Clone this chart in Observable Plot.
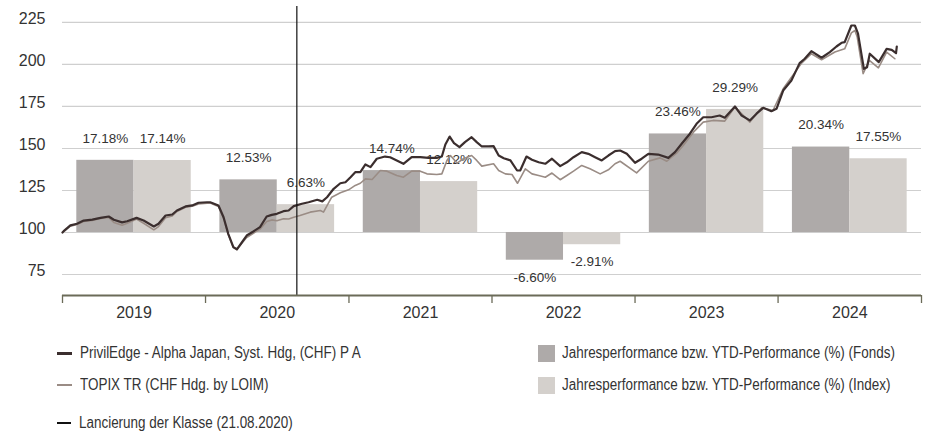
<!DOCTYPE html>
<html><head><meta charset="utf-8">
<script src="https://cdn.jsdelivr.net/npm/d3@7"></script>
<script src="https://cdn.jsdelivr.net/npm/@observablehq/plot@0.6"></script>
<style>
body{margin:0;background:#fff;}
#wrap{position:relative;width:927px;height:434px;overflow:hidden;font-family:"Liberation Sans",Arial,sans-serif;color:#333;}
.txt{position:absolute;font-size:16px;line-height:18px;white-space:nowrap;transform:scaleX(0.84);transform-origin:0 50%;}
.sw{position:absolute;}
</style></head><body><div id="wrap"></div>
<script>
// ---- data ----
const fundDates = ["2019-01-01","2019-01-04","2019-01-21","2019-02-07","2019-02-24","2019-03-18","2019-04-08","2019-04-29","2019-05-12","2019-06-02","2019-06-15","2019-07-09","2019-07-27","2019-08-22","2019-09-03","2019-09-21","2019-10-08","2019-10-20","2019-11-11","2019-11-28","2019-12-14",
"2020-01-05","2020-01-13","2020-02-03","2020-02-16","2020-02-28","2020-03-12","2020-03-21","2020-04-03","2020-04-15","2020-05-02","2020-05-19","2020-06-05","2020-06-18","2020-07-01","2020-07-18","2020-07-31","2020-08-13","2020-09-03","2020-09-20","2020-10-12","2020-10-25","2020-11-06","2020-11-23","2020-12-10","2020-12-23",
"2021-01-05","2021-01-17","2021-01-30","2021-02-12","2021-02-25","2021-03-13","2021-04-03","2021-04-16","2021-05-03","2021-05-20","2021-06-10","2021-07-02","2021-07-23","2021-08-13","2021-08-26","2021-09-04","2021-09-15","2021-09-26","2021-10-10","2021-10-24","2021-11-10","2021-11-23","2021-12-06","2021-12-23",
"2022-01-05","2022-01-18","2022-01-31","2022-02-17","2022-03-06","2022-03-14","2022-03-30","2022-04-13","2022-04-30","2022-05-17","2022-06-03","2022-06-24","2022-07-11","2022-07-28","2022-08-18","2022-09-04","2022-09-21","2022-10-08","2022-10-25","2022-11-11","2022-11-24","2022-12-11",
"2023-01-01","2023-01-18","2023-02-04","2023-03-01","2023-03-27","2023-04-13","2023-04-30","2023-05-21","2023-06-07","2023-06-24","2023-07-15","2023-08-05","2023-08-18","2023-09-13","2023-09-30","2023-10-21","2023-11-07","2023-11-24","2023-12-15","2023-12-28",
"2024-01-14","2024-02-04","2024-02-25","2024-03-09","2024-03-26","2024-04-21","2024-05-12","2024-05-29","2024-06-11","2024-06-19","2024-07-06","2024-07-15","2024-07-23","2024-08-07","2024-08-15","2024-08-22","2024-09-14","2024-10-04","2024-10-17","2024-10-28","2024-10-30"];
const fundValues = [100,100.8,104.2,105.2,107.1,107.7,108.7,109.5,107.6,106.0,106.7,108.7,107.1,103.6,105.2,110.1,110.7,113.1,115.5,116.1,117.7,
118.0,118.0,116.1,109.1,99.2,91.3,90.0,94.2,98.2,100.6,103.2,109.5,110.5,111.1,112.7,113.1,115.7,117.1,118.0,119.5,118.5,121.0,126.0,129.3,129.9,
132.9,135.9,135.9,140.5,138.9,143.9,145.2,144.8,142.9,140.9,144.8,144.8,144.4,144.4,145.2,152.4,157.1,153.2,150.8,153.8,156.7,153.8,151.2,151.2,
151.4,145.8,144.2,142.9,136.9,136.9,145.2,143.3,141.8,140.9,143.9,139.5,141.8,144.8,147.8,146.8,144.8,142.9,145.8,148.4,148.8,146.8,
141.5,143.9,146.8,146.4,144.4,147.8,152.8,158.8,164.7,168.6,168.6,169.6,168.3,175.0,169.6,166.7,170.7,174.2,172.2,173.6,
184.5,190.5,200.8,203.4,207.9,204.0,207.4,210.7,212.9,213.3,223.2,223.2,218.3,197.4,198.4,206.4,201.4,209.3,208.7,206.7,210.7];

const indexDates = ["2019-01-01","2019-01-04","2019-01-21","2019-02-07","2019-02-24","2019-03-18","2019-04-08","2019-04-29","2019-05-12","2019-06-02","2019-06-15","2019-07-09","2019-07-27","2019-08-22","2019-09-03","2019-09-21","2019-10-08","2019-10-20","2019-11-11","2019-11-28","2019-12-14",
"2020-01-05","2020-01-13","2020-02-03","2020-02-16","2020-02-28","2020-03-12","2020-03-21","2020-04-03","2020-04-15","2020-05-02","2020-05-19","2020-06-05","2020-06-18","2020-07-01","2020-07-18","2020-07-31","2020-08-13","2020-08-29","2020-09-24","2020-10-20","2020-10-28","2020-11-18","2020-12-10","2020-12-31",
"2021-01-17","2021-01-30","2021-02-12","2021-03-01","2021-03-22","2021-04-08","2021-05-03","2021-05-20","2021-06-10","2021-07-02","2021-07-19","2021-08-13","2021-08-26","2021-09-08","2021-09-17","2021-10-04","2021-10-20","2021-11-10","2021-11-23","2021-12-06",
"2022-01-05","2022-01-18","2022-02-04","2022-02-21","2022-03-07","2022-03-27","2022-04-13","2022-04-30","2022-05-17","2022-06-03","2022-06-24","2022-07-11","2022-07-28","2022-08-18","2022-09-08","2022-10-04","2022-10-25","2022-11-11","2022-11-24",
"2023-01-05","2023-02-04","2023-03-06","2023-03-23","2023-04-17","2023-05-04","2023-05-30","2023-06-24","2023-07-19","2023-08-18","2023-09-13","2023-10-21","2023-11-20","2023-12-19",
"2024-01-14","2024-03-01","2024-03-26","2024-04-21","2024-05-25","2024-06-19","2024-07-06","2024-07-15","2024-07-21","2024-08-05","2024-08-21","2024-09-13","2024-10-04","2024-10-25"];
const indexValues = [100,100.5,103.8,104.8,106.6,107.2,108.3,109.0,106.0,104.3,105.5,108.0,105.5,101.6,103.5,108.8,109.8,112.5,115.0,115.6,117.0,
117.5,117.6,115.5,108.5,98.8,91.0,89.8,93.8,97.0,99.5,102.0,106.5,107.5,107.0,108.2,108.0,109.1,110.1,112.1,113.1,112.1,121.0,123.6,125.4,
128.0,129.3,131.9,131.5,136.9,136.5,133.9,132.9,136.5,136.5,134.9,134.5,134.9,142.9,145.8,141.3,143.9,145.8,142.9,139.5,
140.9,136.9,134.9,134.5,129.3,137.9,134.9,133.9,132.9,135.4,131.4,133.9,136.5,139.9,137.9,134.9,137.3,140.9,142.4,
135.5,142.4,144.4,142.4,147.2,151.8,159.7,165.7,166.7,166.3,174.6,165.7,174.2,172.6,
185.5,200.8,206.4,202.8,207.4,209.3,218.8,220.2,216.3,194.5,202.4,198.0,207.4,203.4];

const years = [2019, 2020, 2021, 2022, 2023, 2024];
const fundPerf = [17.18, 12.53, 14.74, -6.60, 23.46, 20.34];
const indexPerf = [17.14, 6.63, 12.12, -2.91, 29.29, 17.55];
const yTicks = [75, 100, 125, 150, 175, 200, 225];
const launchDate = "2020-08-21";
const barBase = 100;   // bars start at the index level 100
const barScale = 2.5;  // index points per percent

const fundName = "PrivilEdge - Alpha Japan, Syst. Hdg, (CHF) P A";
const indexName = "TOPIX TR (CHF Hdg. by LOIM)";
const launchName = "Lancierung der Klasse (21.08.2020)";
const barFundName = "Jahresperformance bzw. YTD-Performance (%) (Fonds)";
const barIndexName = "Jahresperformance bzw. YTD-Performance (%) (Index)";

// ---- colours ----
const cFundLine = "#3b2e2e", cIndexLine = "#9a8c85";
const cFundBar = "#aeaaa9", cIndexBar = "#d4d0cc";
const cAxis = "#6b6b58", cText = "#333333";
const font = '"Liberation Sans",Arial,sans-serif';

// ---- build ----
const fund = fundDates.map((d, i) => ({date: new Date(d), v: fundValues[i]}));
const idx = indexDates.map((d, i) => ({date: new Date(d), v: indexValues[i]}));
function yearPoint(y, f) { const a = Date.UTC(y, 0, 1), b = Date.UTC(y + 1, 0, 1); return new Date(a + f * (b - a)); }
const bars = years.flatMap((y, i) => [
  {s: "F", x1: yearPoint(y, 0.1), x2: yearPoint(y, 0.5), v: fundPerf[i]},
  {s: "I", x1: yearPoint(y, 0.5), x2: yearPoint(y, 0.9), v: indexPerf[i]}
]);
bars.forEach(b => { b.mid = new Date((+b.x1 + +b.x2) / 2); b.top = barBase + barScale * b.v; });
const bounds = years.concat([2025]).map(y => yearPoint(y, 0));
const mids = years.map(y => yearPoint(y, 0.5));
const yMin = 62.5, yMax = 234.5;

const chart = Plot.plot({
  width: 927, height: 334,
  marginLeft: 62, marginRight: 6, marginTop: 6, marginBottom: 39,
  style: {fontFamily: font, color: cText, background: "#fff"},
  x: {type: "utc", domain: [bounds[0], bounds[bounds.length - 1]], label: null},
  y: {domain: [yMin, yMax], label: null},
  marks: [
    Plot.gridY(yTicks, {stroke: "#cfcfcf", strokeOpacity: 1, strokeWidth: 1.2}),
    Plot.axisY(yTicks, {tickSize: 0, tickPadding: 17, fontSize: 16, dy: -4, fill: cText, label: null}),
    Plot.rectY(bars.filter(b => b.s === "F"), {x1: "x1", x2: "x2", y1: barBase, y2: "top", fill: cFundBar}),
    Plot.rectY(bars.filter(b => b.s === "I"), {x1: "x1", x2: "x2", y1: barBase, y2: "top", fill: cIndexBar}),
    Plot.text(bars.filter(b => b.v >= 0), {x: "mid", y: "top", text: b => b.v.toFixed(2) + "%", dy: -22, fontSize: 13.5, fill: cText}),
    Plot.text(bars.filter(b => b.v < 0), {x: "mid", y: "top", text: b => b.v.toFixed(2) + "%", dy: 17, fontSize: 13.5, fill: cText}),
    Plot.line(idx, {x: "date", y: "v", stroke: cIndexLine, strokeWidth: 1.6, curve: "linear"}),
    Plot.line(fund, {x: "date", y: "v", stroke: cFundLine, strokeWidth: 2.2, curve: "linear"}),
    Plot.ruleX([new Date(launchDate)], {stroke: "#111", strokeWidth: 1.2}),
    Plot.ruleY([yMin], {stroke: cAxis, strokeWidth: 2}),
    Plot.axisX(bounds, {tickSize: 8, stroke: cAxis, strokeWidth: 1.3, tickFormat: () => "", label: null}),
    Plot.axisX(mids, {tickSize: 0, tickPadding: 11, tickFormat: d => String(d.getUTCFullYear()), fontSize: 16, fill: cText, label: null})
  ]
});

const wrap = document.getElementById("wrap");
wrap.appendChild(chart);
chart.style.position = "absolute"; chart.style.left = "0"; chart.style.top = "0";

function addLine(x, y, w, h, color) {
  const e = document.createElement("div"); e.className = "sw";
  Object.assign(e.style, {left: x + "px", top: (y - h / 2) + "px", width: w + "px", height: h + "px", background: color});
  wrap.appendChild(e);
}
function addText(x, y, s) {
  const e = document.createElement("div"); e.className = "txt";
  e.textContent = s; e.style.left = x + "px"; e.style.top = (y - 9) + "px";
  wrap.appendChild(e);
}
addLine(57, 353, 15, 3, cFundLine); addText(80, 353, fundName);
addLine(57, 385, 15, 2, cIndexLine); addText(80, 385, indexName);
addLine(57, 423, 14, 1.6, "#111"); addText(79, 423, launchName);
addLine(538, 353, 17, 17, cFundBar); addText(562, 353, barFundName);
addLine(538, 385, 17, 17, cIndexBar); addText(562, 385, barIndexName);
</script>
</body></html>
